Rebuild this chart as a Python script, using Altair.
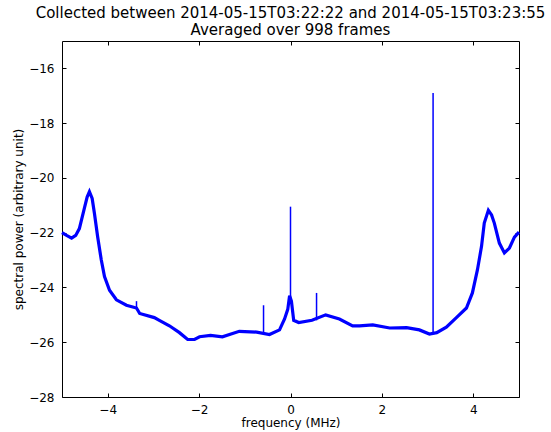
import altair as alt
import pandas as pd

freq = [-5.00, -4.90, -4.79, -4.70, -4.62, -4.51, -4.45, -4.40, -4.34, -4.29,
        -4.22, -4.14, -4.07, -3.96, -3.81, -3.59, -3.37, -3.30, -2.98, -2.87,
        -2.65, -2.43, -2.25, -2.10, -1.99, -1.75, -1.49, -1.12, -0.74, -0.46,
        -0.24, -0.13, -0.06, -0.02, 0.02, 0.07, 0.18, 0.47, 0.77, 1.07,
        1.36, 1.51, 1.80, 2.17, 2.54, 2.82, 3.04, 3.20, 3.41, 3.63,
        3.85, 3.98, 4.09, 4.18, 4.24, 4.33, 4.40, 4.46, 4.57, 4.68,
        4.79, 4.90, 5.00]
power = [-22.0, -22.1, -22.2, -22.1, -21.85, -21.1, -20.7, -20.5, -20.75, -21.3,
         -22.15, -23.0, -23.6, -24.1, -24.45, -24.65, -24.75, -24.95, -25.1, -25.2,
         -25.4, -25.65, -25.9, -25.9, -25.8, -25.75, -25.8, -25.6, -25.63, -25.72,
         -25.55, -25.15, -24.8, -24.3, -24.5, -25.2, -25.28, -25.2, -25.0, -25.15,
         -25.4, -25.4, -25.37, -25.48, -25.47, -25.55, -25.7, -25.65, -25.45, -25.1,
         -24.75, -24.2, -23.36, -22.5, -21.65, -21.18, -21.35, -21.65, -22.38, -22.74,
         -22.56, -22.16, -21.98]

spike_freq = [-3.37, -0.59, 0.0, 0.57, 3.12]
spike_base = [-24.8, -25.7, -24.5, -25.2, -25.7]
spike_top = [-24.5, -24.65, -21.05, -24.2, -16.9]

x_ticks = [-4, -2, 0, 2, 4]
y_ticks = [-16, -18, -20, -22, -24, -26, -28]

df = pd.DataFrame({"f": freq, "p": power})
sp = pd.DataFrame({"f": spike_freq, "b": spike_base, "t": spike_top})

FONT = "DejaVu Sans"
xs = alt.Scale(domain=[-5, 5], nice=False, zero=False)
ys = alt.Scale(domain=[-28, -15], nice=False, zero=False)

common = dict(grid=False, domain=False, tickColor="black", tickSize=4, offset=-4,
              labelFont=FONT, labelFontSize=12, labelColor="black",
              titleFont=FONT, titleFontSize=12, titleColor="black", titleFontWeight="normal")

line = alt.Chart(df).mark_line(color="#0000ff", strokeWidth=3.2).encode(
    x=alt.X("f:Q", scale=xs, title="frequency (MHz)",
            axis=alt.Axis(orient="bottom", values=x_ticks, labelPadding=7, titlePadding=2, **common)),
    y=alt.Y("p:Q", scale=ys, title="spectral power (arbitrary unit)",
            axis=alt.Axis(orient="left", values=y_ticks, labelPadding=8, titlePadding=3, **common)),
)

spikes = alt.Chart(sp).mark_rule(color="#0000ff", strokeWidth=1.5).encode(
    x=alt.X("f:Q", scale=xs, title=None,
            axis=alt.Axis(orient="top", values=x_ticks, labels=False, **common)),
    y=alt.Y("b:Q", scale=ys, title=None,
            axis=alt.Axis(orient="right", values=y_ticks, labels=False, **common)),
    y2="t:Q",
)

chart = alt.layer(line, spikes).resolve_axis(x="independent", y="independent").properties(
    width=457, height=356,
    autosize=alt.AutoSizeParams(type="none"),
    padding={"left": 62, "top": 41, "right": 32, "bottom": 35},
    title=alt.TitleParams(
        text=["Collected between 2014-05-15T03:22:22 and 2014-05-15T03:23:55",
              "Averaged over 998 frames"],
        font=FONT, fontSize=15, fontWeight="normal", color="black",
        anchor="middle", lineHeight=17, offset=3),
).configure(background="white").configure_view(stroke="black", strokeWidth=1)

chart.save("out.html", embed_options={"renderer": "svg", "actions": False})
